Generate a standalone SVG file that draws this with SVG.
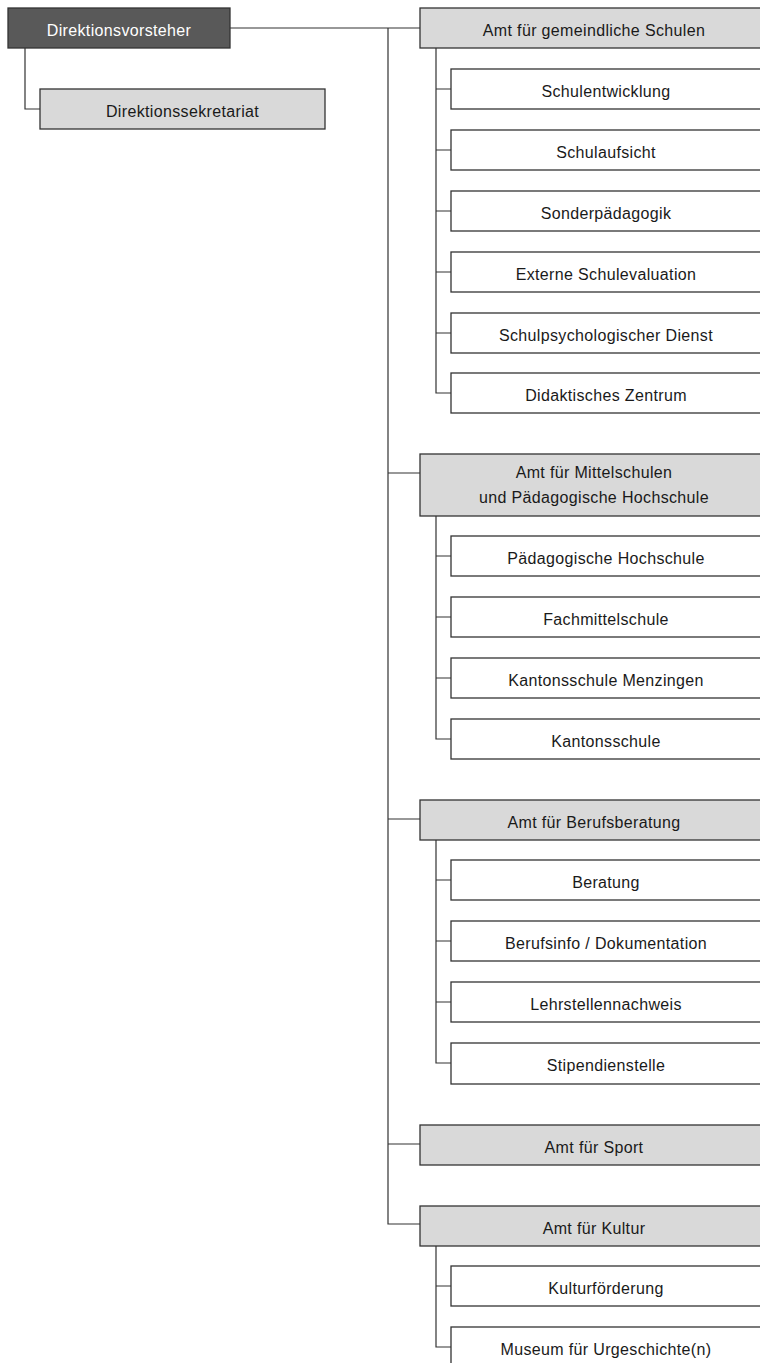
<svg xmlns="http://www.w3.org/2000/svg" width="760" height="1363" viewBox="0 0 760 1363">
<style>
.bx{stroke:#333;stroke-width:1.3}
.top{fill:#595959}
.amt{fill:#d9d9d9}
.sub{fill:#fff}
.t{font-family:"Liberation Sans",Arial,sans-serif;font-size:16px;letter-spacing:0.35px;fill:#1a1a1a;text-anchor:middle}
.w{fill:#fff}
.c{fill:none;stroke:#333;stroke-width:1.2}
</style>
<rect width="760" height="1363" fill="#fff"/>
<g id="connectors">
<path class="c" d="M230,28H420M388,28V1224H420M388,473H420M388,819H420M388,1144H420"/>
<path class="c" d="M25,48V109H40"/>
<path class="c" d="M436,48V393H451M436,89H451M436,150H451M436,211H451M436,272H451M436,333H451"/>
<path class="c" d="M436,516V739H451M436,556H451M436,617H451M436,678H451"/>
<path class="c" d="M436,840V1063H451M436,880H451M436,941H451M436,1002H451"/>
<path class="c" d="M436,1246V1347H451M436,1286H451"/>
</g>
<g id="n-direktionsvorsteher"><rect class="bx top" x="8" y="8" width="222" height="40"/><text class="t w" x="119" y="36">Direktionsvorsteher</text></g>
<g id="n-sekretariat"><rect class="bx amt" x="40" y="89" width="285" height="40"/><text class="t" x="182.5" y="117">Direktionssekretariat</text></g>
<g id="n-gemeindliche"><rect class="bx amt" x="420" y="8" width="350" height="40"/><text class="t" x="594" y="36">Amt für gemeindliche Schulen</text></g>
<g id="n-schulentwicklung"><rect class="bx sub" x="451" y="69" width="320" height="40"/><text class="t" x="606" y="97">Schulentwicklung</text></g>
<g id="n-schulaufsicht"><rect class="bx sub" x="451" y="130" width="320" height="40"/><text class="t" x="606" y="158">Schulaufsicht</text></g>
<g id="n-sonderpaedagogik"><rect class="bx sub" x="451" y="191" width="320" height="40"/><text class="t" x="606" y="219">Sonderpädagogik</text></g>
<g id="n-externe"><rect class="bx sub" x="451" y="252" width="320" height="40"/><text class="t" x="606" y="280">Externe Schulevaluation</text></g>
<g id="n-schulpsych"><rect class="bx sub" x="451" y="313" width="320" height="40"/><text class="t" x="606" y="341">Schulpsychologischer Dienst</text></g>
<g id="n-didaktisches"><rect class="bx sub" x="451" y="373" width="320" height="40"/><text class="t" x="606" y="401">Didaktisches Zentrum</text></g>
<g id="n-mittelschulen"><rect class="bx amt" x="420" y="454" width="350" height="62"/><text class="t" x="594" y="478">Amt für Mittelschulen</text><text class="t" x="594" y="503">und Pädagogische Hochschule</text></g>
<g id="n-ph"><rect class="bx sub" x="451" y="536" width="320" height="40"/><text class="t" x="606" y="564">Pädagogische Hochschule</text></g>
<g id="n-fms"><rect class="bx sub" x="451" y="597" width="320" height="40"/><text class="t" x="606" y="625">Fachmittelschule</text></g>
<g id="n-ksm"><rect class="bx sub" x="451" y="658" width="320" height="40"/><text class="t" x="606" y="686">Kantonsschule Menzingen</text></g>
<g id="n-ks"><rect class="bx sub" x="451" y="719" width="320" height="40"/><text class="t" x="606" y="747">Kantonsschule</text></g>
<g id="n-berufsberatung"><rect class="bx amt" x="420" y="800" width="350" height="40"/><text class="t" x="594" y="828">Amt für Berufsberatung</text></g>
<g id="n-beratung"><rect class="bx sub" x="451" y="860" width="320" height="40"/><text class="t" x="606" y="888">Beratung</text></g>
<g id="n-berufsinfo"><rect class="bx sub" x="451" y="921" width="320" height="40"/><text class="t" x="606" y="949">Berufsinfo / Dokumentation</text></g>
<g id="n-lehrstellen"><rect class="bx sub" x="451" y="982" width="320" height="40"/><text class="t" x="606" y="1010">Lehrstellennachweis</text></g>
<g id="n-stipendien"><rect class="bx sub" x="451" y="1043" width="320" height="41"/><text class="t" x="606" y="1071">Stipendienstelle</text></g>
<g id="n-sport"><rect class="bx amt" x="420" y="1125" width="350" height="40"/><text class="t" x="594" y="1153">Amt für Sport</text></g>
<g id="n-kultur"><rect class="bx amt" x="420" y="1206" width="350" height="40"/><text class="t" x="594" y="1234">Amt für Kultur</text></g>
<g id="n-kulturfoerderung"><rect class="bx sub" x="451" y="1266" width="320" height="40"/><text class="t" x="606" y="1294">Kulturförderung</text></g>
<g id="n-museum"><rect class="bx sub" x="451" y="1327" width="320" height="40"/><text class="t" x="606" y="1355">Museum für Urgeschichte(n)</text></g>
</svg>
